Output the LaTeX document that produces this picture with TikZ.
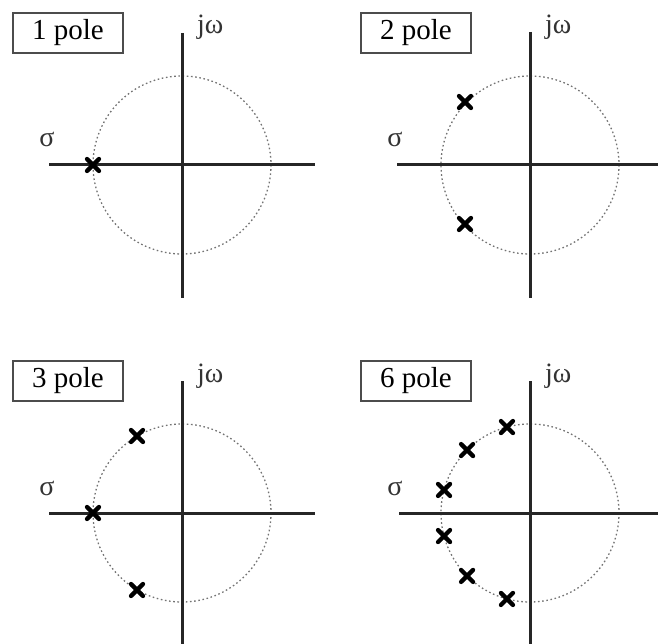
\documentclass[tikz,border=0pt]{standalone}
\usepackage{fontspec}
\setmainfont{Liberation Serif}
\begin{document}
\begin{tikzpicture}[x=1pt,y=-1pt,
  axis/.style={line width=3pt,black!85},
  circ/.style={dash pattern=on 1.6pt off 2.6pt,line width=1.3pt,black!55},
  lbl/.style={draw=black!70,line width=1.2pt,minimum width=110pt,minimum height=40pt,inner sep=0pt,font=\fontsize{29}{31}\selectfont},
  txt/.style={font=\fontsize{28}{30}\selectfont,inner sep=0pt,text=black!80},
  pole/.pic={\draw[line width=4.3pt,line cap=round] (-6,-6)--(6,6) (-6,6)--(6,-6);}]
\useasboundingbox (0,0) rectangle (658,644);
\foreach \cx/\cy/\n/\xl/\xr/\yt/\yb in {182/165/1/49/315/33/298, 530/165/2/397/658/32/298, 182/513/3/49/315/381/644, 530/513/6/399/658/381/644}{
  \draw[circ] (\cx,\cy) circle[radius=89];
  \draw[axis] (\xl,\cy) -- (\xr,\cy);
  \draw[axis] (\cx,\yt) -- (\cx,\yb);
  \node[lbl] at (\cx-114,\cy-132) {\n\ pole};
  \node[txt,anchor=base west] at (\cx+15,\cy-131) {jω};
  \node[txt,anchor=base] at (\cx-135,\cy-18) {σ};
}
\pic at (93,165) {pole};
\pic at (465,102) {pole};
\pic at (465,224) {pole};
\pic at (93,513) {pole};
\pic at (137,436) {pole};
\pic at (137,590) {pole};
\foreach \a in {105,135,165,195,225,255}
  \pic at ({530+89*cos(\a)},{513-89*sin(\a)}) {pole};
\end{tikzpicture}
\end{document}
